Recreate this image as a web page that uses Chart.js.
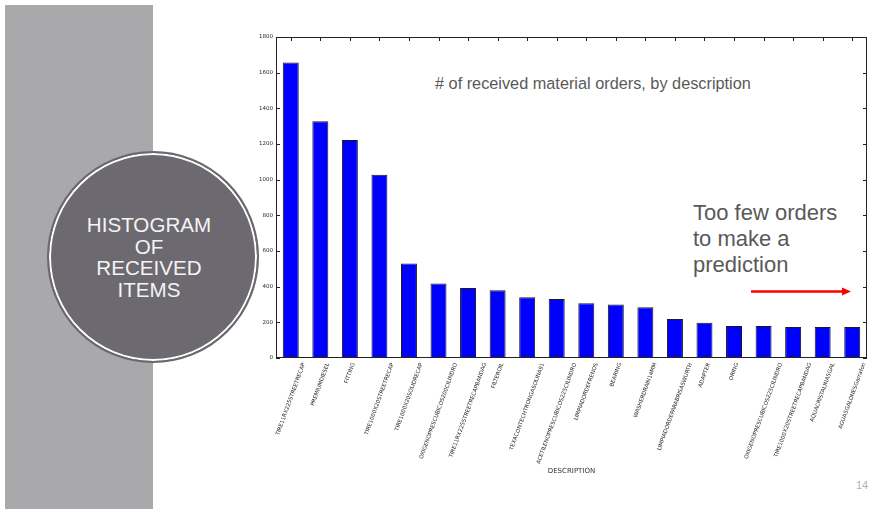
<!DOCTYPE html>
<html>
<head>
<meta charset="utf-8">
<script src="https://cdn.jsdelivr.net/npm/chart.js@4/dist/chart.umd.min.js"></script>
<style>
  html, body { margin: 0; padding: 0; background: #ffffff; }
  #page { position: relative; width: 875px; height: 509px; overflow: hidden; background: #fff; font-family: "Liberation Sans", Arial, sans-serif; }
  #panel { position: absolute; left: 5px; top: 5px; width: 148px; height: 504px; background: #a9a8ab; }
  #circle { position: absolute; left: 47px; top: 151px; width: 208px; height: 208px; border-radius: 50%;
            background: #6c6970; border: 2px solid #6b686e; box-shadow: inset 0 0 0 2px #ffffff; }
  #circleText { position: absolute; left: 43px; top: 214px; width: 212px; text-align: center; color: #f4f4f4;
                font-size: 20.6px; line-height: 21.5px; }
  #note { position: absolute; left: 693px; top: 200px; color: #595959; font-size: 22px; line-height: 26px; }
  #subtitle { position: absolute; left: 435px; top: 74px; color: #595959; font-size: 16.3px; white-space: nowrap; }
  #pagenum { position: absolute; left: 856px; top: 479px; color: #b0b0b0; font-size: 11px; }
  #wrap { position: absolute; left: 0; top: 0; width: 875px; height: 509px; }
</style>
</head>
<body>
<div id="page">
  <div id="panel"></div>
  <div id="circle"></div>
  <div id="circleText">HISTOGRAM<br>OF<br>RECEIVED<br>ITEMS</div>
  <div id="subtitle"># of received material orders, by description</div>
  <div id="note">Too few orders<br>to make a<br>prediction</div>
  <div id="pagenum">14</div>
  <div id="wrap"><canvas id="c" width="875" height="509"></canvas></div>
</div>
<script>
const categories = [
  "TIRE11RX225STREETRECAP",
  "PREMIUMDIESEL",
  "FITTING",
  "TIRE1000X20STREETRECAP",
  "TIRE1000X20SOLIDRECAP",
  "OXIGENOPRESCUBICOS200CILINDRO",
  "TIRE11RX225STREETRECAPBANDAG",
  "FILTEROIL",
  "TEXACONTECHTRONGASOLINA91",
  "ACETILENOPRESCUBICOS225CILINDRO",
  "LIMPIADORDEFRENOS",
  "BEARING",
  "WASHERDRAIN14MM",
  "LIMPIADORDEPARABRISASWURTH",
  "ADAPTER",
  "ORING",
  "OXIGENOPRESCUBICOS225CILINDRO",
  "TIRE1000X20STREETRECAPBANDAG",
  "AQUACRISTALINA5GAL",
  "AGUA5GALONESGarrafon"
];
const orderCounts = [1657, 1328, 1223, 1028, 530, 418, 393, 380, 341, 331, 307, 300, 285, 219, 197, 180, 180, 174, 174, 174];
const yTickMin = 0;
const yTickMax = 1800;
const yTickStep = 200;
const xAxisTitle = "DESCRIPTION";

const LABEL_ROT = 70;

const mplStyle = {
  id: 'mplStyle',
  beforeDraw(chart) {
    const xs = chart.scales.x;
    const items = xs.getLabelItems(chart.chartArea);
    const ctx = chart.ctx;
    const rot = LABEL_ROT * Math.PI / 180;
    items.forEach(it => {
      if (it._shifted) return;
      ctx.save();
      ctx.font = it.font.string;
      const w = ctx.measureText(String(it.label)).width;
      ctx.restore();
      it.options.translation[0] += w * Math.cos(rot) / 2;
      it._shifted = true;
    });
  },
  afterDraw(chart) {
    const ctx = chart.ctx;
    const a = chart.chartArea;
    const xs = chart.scales.x, ys = chart.scales.y;
    ctx.save();
    ctx.strokeStyle = '#222';
    ctx.lineWidth = 1;
    ctx.strokeRect(Math.round(a.left) + 0.5, Math.round(a.top) + 0.5, Math.round(a.right - a.left) - 1, Math.round(a.bottom - a.top) - 1);
    ctx.beginPath();
    const tl = 4;
    xs.ticks.forEach((t, i) => {
      const x = Math.round(xs.getPixelForTick(i)) + 0.5;
      ctx.moveTo(x, a.top); ctx.lineTo(x, a.top + tl);
      ctx.moveTo(x, a.bottom); ctx.lineTo(x, a.bottom - tl);
    });
    ys.ticks.forEach((t, i) => {
      const y = Math.round(ys.getPixelForTick(i)) + 0.5;
      ctx.moveTo(a.left, y); ctx.lineTo(a.left + tl, y);
      ctx.moveTo(a.right, y); ctx.lineTo(a.right - tl, y);
    });
    ctx.stroke();
    const ay = 291.5;
    ctx.strokeStyle = '#ff0000';
    ctx.fillStyle = '#ff0000';
    ctx.lineWidth = 2.5;
    ctx.beginPath();
    ctx.moveTo(751, ay); ctx.lineTo(844, ay);
    ctx.stroke();
    ctx.beginPath();
    ctx.moveTo(851, ay); ctx.lineTo(842, ay - 4); ctx.lineTo(842, ay + 4); ctx.closePath();
    ctx.fill();
    ctx.restore();
  }
};

new Chart(document.getElementById('c'), {
  type: 'bar',
  data: {
    labels: categories,
    datasets: [{
      data: orderCounts,
      backgroundColor: '#0000ff',
      borderColor: '#1a1a1a',
      borderWidth: 1,
      borderSkipped: false,
      categoryPercentage: 1.0,
      barPercentage: 0.54
    }]
  },
  options: {
    responsive: false,
    animation: false,
    devicePixelRatio: 1,
    layout: { padding: { top: 37, right: 8, bottom: 32, left: 256 } },
    plugins: { legend: { display: false }, tooltip: { enabled: false }, title: { display: false } },
    scales: {
      x: {
        grid: { display: false, drawTicks: false },
        border: { display: false },
        ticks: {
          autoSkip: false, minRotation: LABEL_ROT, maxRotation: LABEL_ROT, padding: 4,
          font: { family: 'DejaVu Sans', size: 5.5 }, color: '#2a2a2a'
        },
        title: { display: true, text: xAxisTitle, font: { family: 'DejaVu Sans', size: 7 }, color: '#333', padding: { top: 0, bottom: 2 } },
        afterFit(s) { s.height = 119; }
      },
      y: {
        min: yTickMin, max: yTickMax,
        grid: { display: false, drawTicks: false },
        border: { display: false },
        ticks: {
          stepSize: yTickStep, padding: 3, font: { family: 'DejaVu Sans', size: 5.5 }, color: '#2a2a2a',
          callback: (v) => String(v)
        },
        afterFit(s) { s.width = 20; }
      }
    }
  },
  plugins: [mplStyle]
});
</script>
</body>
</html>
